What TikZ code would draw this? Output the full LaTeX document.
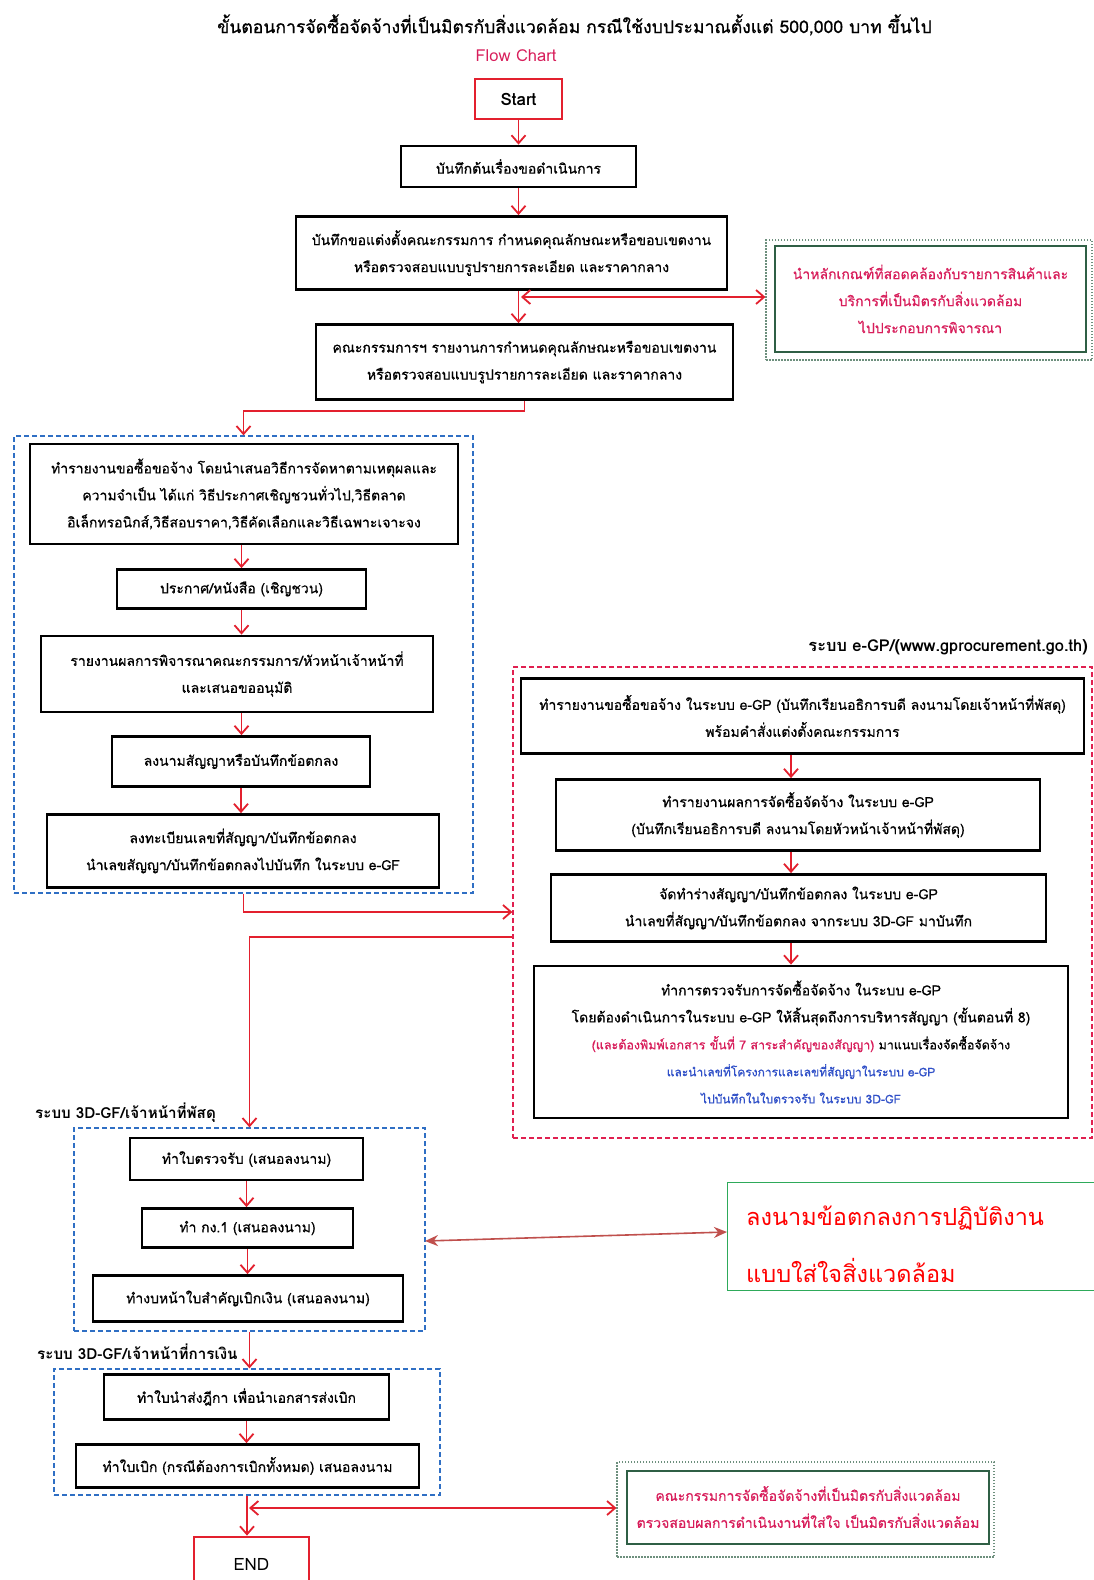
\documentclass[tikz,border=0pt]{standalone}
\usepackage{fontspec}
\setmainfont[Script=Thai]{Loma}
\newfontfamily\heavy[Script=Thai,FakeBold=0.7]{Loma}
\usetikzlibrary{arrows.meta}
\definecolor{cred}{HTML}{E3202E}
\definecolor{crimson}{HTML}{D81E5B}
\definecolor{gblue}{HTML}{2F6FC4}
\definecolor{rdash}{HTML}{E02050}
\definecolor{ngreen}{HTML}{2F5F45}
\definecolor{dred}{HTML}{C0504D}
\definecolor{ggreen}{HTML}{2EAA5A}
\definecolor{tblue}{HTML}{3050C8}
\begin{document}
\begin{tikzpicture}[x=1pt,y=-1pt,
  box/.style={draw=black, line width=2.8pt, fill=white, inner sep=0pt, align=center,
    font=\heavy\fontsize{14}{27}\selectfont},
  flow/.style={draw=cred, line width=1.8pt, -{Straight Barb[length=8pt,width=14pt]}},
  flowline/.style={draw=cred, line width=1.8pt},
  both/.style={draw=cred, line width=1.8pt, {Straight Barb[length=8pt,width=14pt]}-{Straight Barb[length=8pt,width=14pt]}},
  grp/.style={draw=gblue, line width=1.3pt, dash pattern=on 5pt off 3pt, inner sep=0pt},
  rgrp/.style={draw=rdash, line width=1.3pt, dash pattern=on 5pt off 3pt, inner sep=0pt},
  nout/.style={draw=ngreen!70, line width=1.2pt, dash pattern=on 1.5pt off 1.5pt, inner sep=0pt},
  nin/.style={draw=ngreen, line width=2pt, inner sep=0pt, align=center, text=crimson,
    font=\heavy\fontsize{14}{27}\selectfont},
  lbl/.style={font=\bfseries\fontsize{15.2}{18}\selectfont, inner sep=0pt}
]
\useasboundingbox (0,0) rectangle (1094,1580);
\fill[white] (0,0) rectangle (1094,1580);

% title
\node[font=\heavy\fontsize{17.6}{20}\selectfont, inner sep=0pt] (title) at (574.5,25)
  {ขั้นตอนการจัดซื้อจัดจ้างที่เป็นมิตรกับสิ่งแวดล้อม กรณีใช้งบประมาณตั้งแต่ 500,000 บาท ขึ้นไป};
\node[font=\fontsize{16.5}{19}\selectfont, text=crimson, inner sep=0pt] (fc) at (516,56) {Flow Chart};

% top column
\node[draw=cred, line width=2.8pt, inner sep=0pt, minimum width=87pt, minimum height=40pt,
  font=\bfseries\fontsize{17}{20}\selectfont] (start) at (518.5,99) {Start};
\node[box, minimum width=235pt, minimum height=41pt] (b1) at (518.5,166.5) {บันทึกต้นเรื่องขอดำเนินการ};
\node[box, minimum width=431pt, minimum height=73pt] (b2) at (511.5,253)
  {บันทึกขอแต่งตั้งคณะกรรมการ กำหนดคุณลักษณะหรือขอบเขตงาน\\หรือตรวจสอบแบบรูปรายการละเอียด และราคากลาง};
\node[box, minimum width=417pt, minimum height=75pt] (b3) at (524.5,362)
  {คณะกรรมการฯ รายงานการกำหนดคุณลักษณะหรือขอบเขตงาน\\หรือตรวจสอบแบบรูปรายการละเอียด และราคากลาง};

% note 1
\node[nout, minimum width=326pt, minimum height=120pt] (n1o) at (929,300) {};
\node[nin, minimum width=311pt, minimum height=106pt] (n1) at (930.5,299)
  {นำหลักเกณฑ์ที่สอดคล้องกับรายการสินค้าและ\\บริการที่เป็นมิตรกับสิ่งแวดล้อม\\ไปประกอบการพิจารณา};

\draw[flow] (start.south) -- (start.south |- b1.north);
\draw[flow] (b1.south) -- (b1.south |- b2.north);
\draw[flow] (b2.south -| b1.south) -- (b1.south |- b3.north);
\coordinate (j1) at (521,297);
\draw[both] (j1) -- (n1o.west |- j1);

% group 1
\node[grp, minimum width=459pt, minimum height=457pt] (g1) at (243.5,664.5) {};
\node[box, minimum width=428pt, minimum height=100pt] (b4) at (244,494)
  {ทำรายงานขอซื้อขอจ้าง โดยนำเสนอวิธีการจัดหาตามเหตุผลและ\\ความจำเป็น ได้แก่ วิธีประกาศเชิญชวนทั่วไป,วิธีตลาด\\อิเล็กทรอนิกส์,วิธีสอบราคา,วิธีคัดเลือกและวิธีเฉพาะเจาะจง};
\node[box, minimum width=249pt, minimum height=39pt] (b5) at (241.5,589) {ประกาศ/หนังสือ (เชิญชวน)};
\node[box, minimum width=392pt, minimum height=76pt] (b6) at (237,674)
  {รายงานผลการพิจารณาคณะกรรมการ/หัวหน้าเจ้าหน้าที่\\และเสนอขออนุมัติ};
\node[box, minimum width=258pt, minimum height=50pt] (b7) at (241,761.5) {ลงนามสัญญาหรือบันทึกข้อตกลง};
\node[box, minimum width=392pt, minimum height=73pt] (b8) at (243,851)
  {ลงทะเบียนเลขที่สัญญา/บันทึกข้อตกลง\\นำเลขสัญญา/บันทึกข้อตกลงไปบันทึก ในระบบ e-GF};

\draw[flowline] (b3.south) -- ++(0,10) -| coordinate[pos=0.75] (m1) (g1.north);
\draw[flow] (m1) -- (g1.north);
\draw[flow] (b4.south -| b5.north) -- (b5.north);
\draw[flow] (b5.south) -- (b5.south |- b6.north);
\draw[flow] (b6.south -| b5.south) -- (b5.south |- b7.north);
\draw[flow] (b7.south) -- (b7.south |- b8.north);

% e-GP group
\node[lbl, anchor=east, font=\bfseries\fontsize{16.4}{19}\selectfont] (egp) at (1088,647) {ระบบ e-GP/(www.gprocurement.go.th)};
\node[rgrp, minimum width=579pt, minimum height=471pt] (r) at (802.5,902.5) {};
\node[box, minimum width=563pt, minimum height=75pt] (b9) at (802.5,716)
  {ทำรายงานขอซื้อขอจ้าง ในระบบ e-GP (บันทึกเรียนอธิการบดี ลงนามโดยเจ้าหน้าที่พัสดุ)\\พร้อมคำสั่งแต่งตั้งคณะกรรมการ};
\node[box, minimum width=484pt, minimum height=71pt] (b10) at (798,815)
  {ทำรายงานผลการจัดซื้อจัดจ้าง ในระบบ e-GP\\(บันทึกเรียนอธิการบดี ลงนามโดยหัวหน้าเจ้าหน้าที่พัสดุ)};
\node[box, minimum width=495pt, minimum height=67pt] (b11) at (798.5,908)
  {จัดทำร่างสัญญา/บันทึกข้อตกลง ในระบบ e-GP\\นำเลขที่สัญญา/บันทึกข้อตกลง จากระบบ 3D-GF มาบันทึก};
\node[box, minimum width=534pt, minimum height=152pt] (b12) at (801,1042)
  {ทำการตรวจรับการจัดซื้อจัดจ้าง ในระบบ e-GP\\
   โดยต้องดำเนินการในระบบ e-GP ให้สิ้นสุดถึงการบริหารสัญญา (ขั้นตอนที่ 8)\\
   {\fontsize{12.5}{27}\selectfont\textcolor{crimson}{(และต้องพิมพ์เอกสาร ขั้นที่ 7 สาระสำคัญของสัญญา)} มาแนบเรื่องจัดซื้อจัดจ้าง}\\
   {\fontsize{12}{27}\selectfont\color{tblue}และนำเลขที่โครงการและเลขที่สัญญาในระบบ e-GP}\\
   {\fontsize{12}{27}\selectfont\color{tblue}ไปบันทึกในใบตรวจรับ ในระบบ 3D-GF}};
\coordinate (xr) at (791,0);
\draw[flow] (xr |- b9.south) -- (xr |- b10.north);
\draw[flow] (xr |- b10.south) -- (xr |- b11.north);
\draw[flow] (xr |- b11.south) -- (xr |- b12.north);

\coordinate (y912) at (0,912);
\coordinate (y937) at (0,937);
\draw[flow] (g1.south) |- (r.west |- y912);

% group 2
\node[lbl, anchor=west] (l2) at (35,1113) {ระบบ 3D-GF/เจ้าหน้าที่พัสดุ};
\node[grp, minimum width=351pt, minimum height=203pt] (g2) at (249.5,1229.5) {};
\node[box, minimum width=233pt, minimum height=42pt] (b13) at (246.5,1159) {ทำใบตรวจรับ (เสนอลงนาม)};
\node[box, minimum width=211pt, minimum height=39pt] (b14) at (247.5,1228) {ทำ กง.1 (เสนอลงนาม)};
\node[box, minimum width=310pt, minimum height=46pt] (b15) at (248,1298.5) {ทำงบหน้าใบสำคัญเบิกเงิน (เสนอลงนาม)};
\draw[flow] (r.west |- y937) -| (g2.north);
\draw[flow] (b13.south) -- (b13.south |- b14.north);
\draw[flow] (b14.south) -- (b14.south |- b15.north);

% green note
\node[draw=ggreen, line width=1pt, minimum width=383pt, minimum height=108pt, anchor=north west, inner sep=0pt] (gn) at (727,1182) {};
\node[anchor=west, text=red, font=\fontsize{23.5}{57}\selectfont, align=left, inner sep=0pt] (gt) at (746,1244)
  {ลงนามข้อตกลงการปฏิบัติงาน\\แบบใส่ใจสิ่งแวดล้อม};
\coordinate (ga) at (425,1241);
\coordinate (gb) at (727,1232);
\draw[dred, line width=1.6pt, {Stealth[length=13pt,width=11pt]}-{Stealth[length=13pt,width=11pt]}] (ga) -- (gb);

% group 3
\node[lbl, anchor=west] (l3) at (37,1352) {ระบบ 3D-GF/เจ้าหน้าที่การเงิน};
\node[grp, minimum width=386pt, minimum height=126pt] (g3) at (247,1432) {};
\node[box, minimum width=285pt, minimum height=45pt] (b16) at (246.5,1397) {ทำใบนำส่งฎีกา เพื่อนำเอกสารส่งเบิก};
\node[box, minimum width=343pt, minimum height=43pt] (b17) at (247.5,1466) {ทำใบเบิก (กรณีต้องการเบิกทั้งหมด) เสนอลงนาม};
\draw[flow] (g2.south) -- (g2.south |- g3.north);
\draw[flow] (b16.south) -- (b16.south |- b17.north);

% end
\node[draw=cred, line width=2.8pt, inner sep=0pt, minimum width=115pt, minimum height=54pt,
  font=\fontsize{17}{20}\selectfont] (endn) at (251.5,1564) {END};
\draw[flow] (g3.south) -- (g3.south |- endn.north);

% note 2
\node[nout, minimum width=377pt, minimum height=95pt] (n2o) at (805.5,1509.5) {};
\node[nin, minimum width=362pt, minimum height=73pt] (n2) at (808,1507)
  {คณะกรรมการจัดซื้อจัดจ้างที่เป็นมิตรกับสิ่งแวดล้อม\\ตรวจสอบผลการดำเนินงานที่ใส่ใจ เป็นมิตรกับสิ่งแวดล้อม};
\coordinate (j2) at (249,1508);
\draw[both] (j2) -- (n2o.west |- j2);
\end{tikzpicture}
\end{document}
